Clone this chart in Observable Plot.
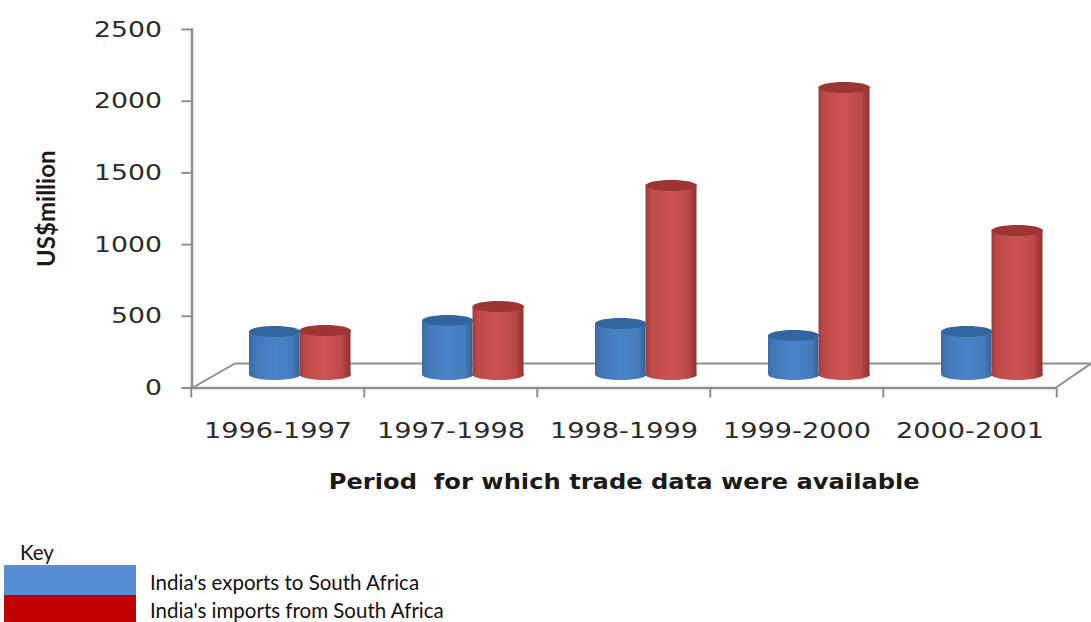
<!DOCTYPE html>
<html>
<head>
<meta charset="utf-8">
<script src="https://cdn.jsdelivr.net/npm/d3@7"></script>
<script src="https://cdn.jsdelivr.net/npm/@observablehq/plot@0.6"></script>
<style>
html,body{margin:0;padding:0;background:#fff;}
#key{position:relative;height:112px;font-family:Lato,sans-serif;color:#111;font-size:20.5px;overflow:hidden;}
#key div{position:absolute;white-space:nowrap;line-height:24px;}
</style>
</head>
<body>
<div id="chart"></div>
<div id="key"></div>
<script>
const periods = ["1996-1997", "1997-1998", "1998-1999", "1999-2000", "2000-2001"];
const exportsUS = [300, 377, 356, 272, 300];
const importsUS = [307, 474, 1318, 2001, 1004];
const yTicks = [0, 500, 1000, 1500, 2000, 2500];
const yLabel = "US$million";
const xLabel = "Period  for which trade data were available";
const keyTitle = "Key";
const exportsName = "India's exports to South Africa";
const importsName = "India's imports from South Africa";

const rows = (values) => periods.map((period, i) => ({period, value: values[i]}));
const grey = "#8f8f8f";
const depth = -13.5;            // cylinders stand in the middle of the 3D floor
const ellipse = {draw(ctx, size) {
  const rx = Math.sqrt(size / Math.PI), ry = rx * 0.215, k = 0.5523;
  ctx.moveTo(-rx, 0);
  ctx.bezierCurveTo(-rx, -ry * k, -rx * k, -ry, 0, -ry);
  ctx.bezierCurveTo(rx * k, -ry, rx, -ry * k, rx, 0);
  ctx.bezierCurveTo(rx, ry * k, rx * k, ry, 0, ry);
  ctx.bezierCurveTo(-rx * k, ry, -rx, ry * k, -rx, 0);
  ctx.closePath();
}};

const defs = () => {
  const d = d3.create("svg:defs");
  const grad = (id, stops) => {
    const g = d.append("linearGradient").attr("id", id);
    stops.forEach(([o, c]) => g.append("stop").attr("offset", o).attr("stop-color", c));
  };
  grad("gBlue", [[0, "#3a6ca9"], [0.12, "#4478b8"], [0.5, "#4a85c9"], [0.85, "#457cbc"], [1, "#366397"]]);
  grad("gRed", [[0, "#a23c3a"], [0.12, "#bf4b49"], [0.5, "#cd5452"], [0.82, "#bd4a48"], [1, "#8e3231"]]);
  return d.node();
};

const floor = (index, {x, y}) => {
  const x0 = x(periods[0]), x1 = x(periods[4]) + x.bandwidth();
  const y0 = y(0);
  return d3.create("svg:path")
    .attr("d", `M${x0 + 2},${y0}L${x0 + 44},${y0 - 24}L1091,${y0 - 24}M${x1},${y0}L1091,${y0 - 24}`)
    .attr("fill", "none").attr("stroke", grey).attr("stroke-width", 2).node();
};

const cylinder = (values, fill, top, left, right, dx) => [
  Plot.dot(rows(values), {x: "period", y: () => 0, dx, dy: depth, r: 25.75, symbol: ellipse, fill}),
  Plot.barY(rows(values), {x: "period", y1: () => 0, y2: "value", dy: depth, insetLeft: left, insetRight: right, fill}),
  Plot.dot(rows(values), {x: "period", y: "value", dx, dy: depth, r: 25.75, symbol: ellipse, fill: top})
];

const plot = Plot.plot({
  width: 1091,
  height: 510,
  marginLeft: 190,
  marginRight: 33.5,
  marginTop: 29,
  marginBottom: 122.5,
  style: {background: "#fff", fontFamily: "'DejaVu Sans', sans-serif", overflow: "visible"},
  x: {type: "band", domain: periods, padding: 0, label: null},
  y: {domain: [0, 2500], label: null},
  marks: [
    defs,
    floor,
    Plot.frame({anchor: "left", stroke: grey, strokeWidth: 2.5, dx: 1.5}),
    Plot.axisY({ticks: yTicks, tickFormat: d => String(d), tickSize: 10, tickPadding: 20, dx: 1.5, stroke: grey, strokeWidth: 2, fontSize: 22, fill: "#2b2b2b", label: null}),
    Plot.ruleY([0], {stroke: grey, strokeWidth: 2.5}),
    Plot.axisX({tickSize: 10, text: null, dx: -86.75, stroke: grey, strokeWidth: 2, label: null}),
    Plot.axisX({ticks: [periods[4]], tickSize: 10, text: null, dx: 86.75, stroke: grey, strokeWidth: 2, label: null}),
    Plot.axisX({tickSize: 0, tickPadding: 34, fontSize: 22, fill: "#2b2b2b", label: null}),
    ...cylinder(exportsUS, "url(#gBlue)", "#33659f", 58, 64.5, -3.25),
    ...cylinder(importsUS, "url(#gRed)", "#9c3533", 108.5, 13.5, 47.25),
    Plot.text([yLabel], {text: d => d, frameAnchor: "left", textAnchor: "middle", dx: -143, rotate: -90, fontSize: 24, fontWeight: 700, fontFamily: "Lato, sans-serif", fill: "#1a1a1a"}),
    Plot.text([xLabel], {text: d => d, frameAnchor: "bottom", dy: 101, fontSize: 22, fontWeight: 700, fill: "#1a1a1a"})
  ]
});
document.getElementById("chart").appendChild(plot);

// The reference is stretched horizontally: widen labels to match.
d3.select(plot).selectAll('[aria-label="y-axis tick label"] text')
  .attr("textLength", function() { return this.textContent.length * 17; })
  .attr("lengthAdjust", "spacingAndGlyphs");
d3.select(plot).selectAll('[aria-label="x-axis tick label"] text')
  .attr("textLength", 148).attr("lengthAdjust", "spacingAndGlyphs");
d3.select(plot).selectAll("text").filter(function() { return this.textContent === xLabel; })
  .attr("textLength", 591).attr("lengthAdjust", "spacingAndGlyphs");

const key = d3.select("#key");
const place = (x, y, w, h, bg, t) => key.append("div")
  .style("left", x + "px").style("top", y + "px")
  .style("width", w ? w + "px" : null).style("height", h ? h + "px" : null)
  .style("background", bg || null).text(t || "");
place(20, 30, 0, 0, null, keyTitle);
place(4, 55, 132, 30, "#558ed5");
place(4, 85, 132, 27, "#c00000");
place(150, 60, 0, 0, null, exportsName);
place(150, 88, 0, 0, null, importsName);
</script>
</body>
</html>
